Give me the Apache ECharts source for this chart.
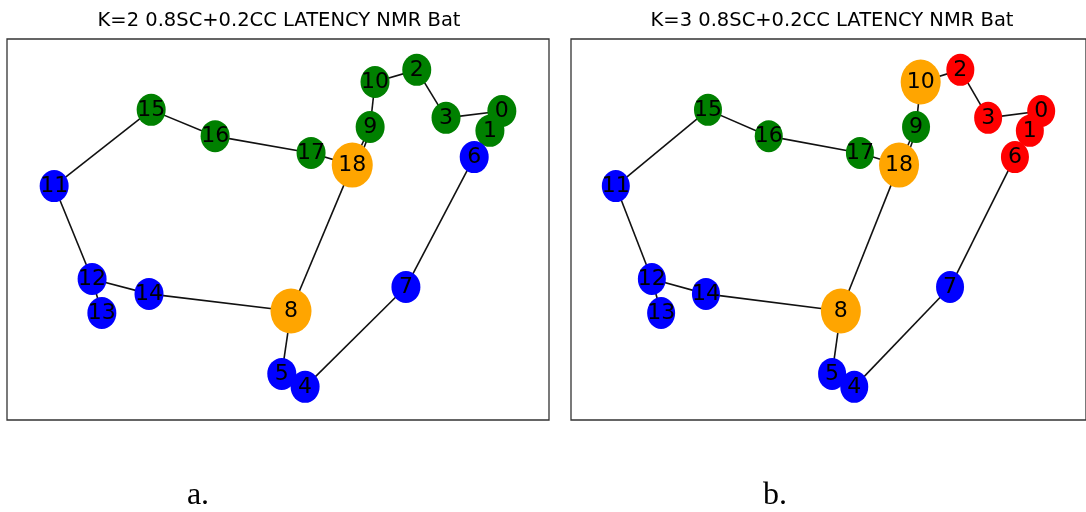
<!DOCTYPE html>
<html><head><meta charset="utf-8">
<script src="https://cdn.jsdelivr.net/npm/echarts@6/dist/echarts.min.js"></script>
<style>html,body{margin:0;padding:0;background:#fff}#c{width:1086px;height:512px}</style>
</head><body><div id="c"></div>
<script>
// Node layout (shared by both panels), in axis units 0..100
const nodeNames = ['0','1','2','3','4','5','6','7','8','9','10','11','12','13','14','15','16','17','18'];
const nodeX = [91.3, 89.1, 75.6, 81.0, 55.0, 50.7, 86.2, 73.6, 52.4, 67.0, 67.9, 8.7, 15.7, 17.5, 26.2, 26.6, 38.4, 56.1, 63.7];
const nodeY = [81.1, 75.9, 91.9, 79.3, 8.7, 12.1, 69.0, 34.9, 28.6, 76.9, 88.7, 61.4, 37.0, 28.1, 33.1, 81.4, 74.5, 70.1, 66.9];
const edgeSource = [15, 11, 12, 12, 14, 8, 8, 5, 4, 7, 6, 0, 3, 2, 10, 9, 9, 17, 16];
const edgeTarget = [11, 12, 13, 14, 8, 18, 5, 4, 7, 6, 1, 3, 2, 10, 9, 18, 18, 18, 17];
const edgeExtra = [[15, 16]];
// cluster assignment per node ('g' green, 'b' blue, 'r' red, 'o' orange/controller)
const groupsK2 = ['g','g','g','g','b','b','b','b','o','g','g','b','b','b','b','g','g','g','o'];
const groupsK3 = ['r','r','r','r','b','b','r','b','o','g','o','b','b','b','b','g','g','g','o'];
const titles = ['K=2 0.8SC+0.2CC LATENCY NMR Bat', 'K=3 0.8SC+0.2CC LATENCY NMR Bat'];
const captions = ['a.', 'b.'];

const colorMap = {g:'#008000', b:'#0000ff', r:'#ff0000', o:'#ffa500'};
function buildSeries(groups, idx, small, big) {
  const links = edgeSource.map((s, i) => ({source: s, target: edgeTarget[i]}));
  edgeExtra.forEach(e => links.push({source: e[0], target: e[1]}));
  // the 9-18 pair is drawn doubled in the reference
  links[16].lineStyle = {curveness: 0.15};
  return {
    type: 'graph', coordinateSystem: 'cartesian2d', xAxisIndex: idx, yAxisIndex: idx,
    silent: true, animation: false,
    data: nodeNames.map((n, i) => ({
      name: n, value: [nodeX[i], nodeY[i]],
      symbolSize: groups[i] === 'o' ? big : small,
      itemStyle: {color: colorMap[groups[i]]}
    })),
    links: links,
    lineStyle: {color: '#111', width: 1.6, opacity: 1, curveness: 0},
    label: {show: true, position: 'inside', formatter: '{b}', color: '#000',
            fontFamily: 'DejaVu Sans', fontSize: 22},
    emphasis: {disabled: true}
  };
}
const chart = echarts.init(document.getElementById('c'));
const axisHidden = {type: 'value', min: 0, max: 100, show: false};
chart.setOption({
  animation: false,
  grid: [
    {left: 7, top: 39, width: 542, height: 381, show: true, borderColor: '#333', borderWidth: 1.3, backgroundColor: 'transparent'},
    {left: 571, top: 39, width: 520, height: 381, show: true, borderColor: '#333', borderWidth: 1.3, backgroundColor: 'transparent'}
  ],
  xAxis: [Object.assign({gridIndex: 0}, axisHidden), Object.assign({gridIndex: 1}, axisHidden)],
  yAxis: [Object.assign({gridIndex: 0}, axisHidden), Object.assign({gridIndex: 1}, axisHidden)],
  series: [buildSeries(groupsK2, 0, [29, 32], [41, 45]), buildSeries(groupsK3, 1, [28, 32], [40, 45])],
  graphic: [
    {type: 'text', x: 279, y: 21, style: {text: titles[0], font: '19.5px "DejaVu Sans"', fill: '#000', textAlign: 'center', textVerticalAlign: 'middle'}},
    {type: 'text', x: 832, y: 21, style: {text: titles[1], font: '19.5px "DejaVu Sans"', fill: '#000', textAlign: 'center', textVerticalAlign: 'middle'}},
    {type: 'text', x: 198, y: 496, style: {text: captions[0], font: '32px "Liberation Serif"', fill: '#000', textAlign: 'center', textVerticalAlign: 'middle'}},
    {type: 'text', x: 775, y: 496, style: {text: captions[1], font: '32px "Liberation Serif"', fill: '#000', textAlign: 'center', textVerticalAlign: 'middle'}}
  ]
});
</script></body></html>
